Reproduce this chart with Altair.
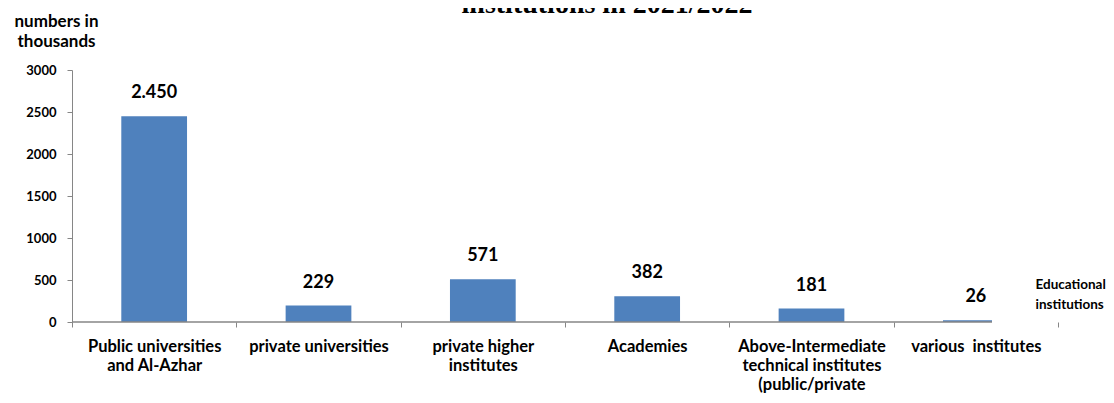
import altair as alt
import pandas as pd

# ---- data ----
categories = [
    "Public universities\nand Al-Azhar",
    "private universities",
    "private higher\ninstitutes",
    "Academies",
    "Above-Intermediate\ntechnical institutes\n(public/private",
    "various\u00a0 institutes",
]
bar_values = [2450, 195, 510, 308, 160, 20]
value_labels = ["2.450", "229", "571", "382", "181", "26"]
y_ticks = [0, 500, 1000, 1500, 2000, 2500, 3000]
title_text = "institutions in 2021/2022"
y_title = ["numbers in", "thousands"]
x_title = ["Educational", "institutions"]

df = pd.DataFrame({"category": categories, "value": bar_values, "label": value_labels})

FONT = "Lato"
GREY = "#868686"
BLUE = "#4F81BD"
W_VIEW = 920
X_RANGE = 986
H = 252

x_enc = alt.X(
    "category:N",
    sort=categories,
    scale=alt.Scale(range=[0, X_RANGE], paddingInner=0, paddingOuter=0),
    axis=alt.Axis(
        title=x_title,
        titleX=963, titleY=-34, titleAlign="left", titleBaseline="alphabetic",
        titleAngle=0, titleFont=FONT, titleFontSize=13.5, titleFontWeight="bold",
        titleLineHeight=20, titleColor="black",
        labelAngle=0, labelFont=FONT, labelFontSize=16.5, labelFontWeight="bold",
        labelColor="black", labelExpr="split(datum.label, '\\n')",
        labelLineHeight=19, labelPadding=11, labelLimit=400,
        tickBand="extent", tickSize=5, tickColor=GREY, domain=False,
    ),
)

y_enc = alt.Y(
    "value:Q",
    scale=alt.Scale(domain=[0, 3000]),
    axis=alt.Axis(
        values=y_ticks, format="d", grid=False,
        title=y_title, titleAngle=0, titleX=-16, titleY=-44,
        titleAlign="center", titleBaseline="alphabetic", titleLineHeight=20,
        titleFont=FONT, titleFontSize=17, titleFontWeight="bold", titleColor="black",
        labelFont=FONT, labelFontSize=13, labelFontWeight="bold", labelColor="black",
        labelPadding=11, tickSize=5, tickColor=GREY, domainColor=GREY,
    ),
)

base = alt.Chart(df)

bars = base.mark_bar(color=BLUE, width=alt.RelativeBandSize(0.4), clip=True).encode(x=x_enc, y=y_enc)

labels = base.mark_text(
    font=FONT, fontSize=18, fontWeight="bold", color="black", dy=-23, baseline="middle"
).encode(x=alt.X("category:N", sort=categories), y="value:Q", text="label:N")

baseline = alt.Chart(pd.DataFrame({"z": [0]})).mark_rule(color=GREY, strokeWidth=1.5).encode(
    y=alt.datum(0), x=alt.value(0), x2=alt.value(W_VIEW)
)

title = alt.Chart(pd.DataFrame({"t": [title_text]})).mark_text(
    font="Liberation Serif", fontSize=28, fontWeight="bold", color="black",
    align="center", baseline="alphabetic"
).encode(x=alt.value(535), y=alt.value(-57), text="t:N")

chart = (
    alt.layer(bars, baseline, labels, title)
    .properties(
        width=W_VIEW, height=H,
        autosize=alt.AutoSizeParams(type="none"),
        padding={"left": 64, "top": 62, "right": 114, "bottom": 73},
    )
    .configure_view(stroke=None)
)

chart.save("out.html", embed_options={"renderer": "svg", "actions": False})
